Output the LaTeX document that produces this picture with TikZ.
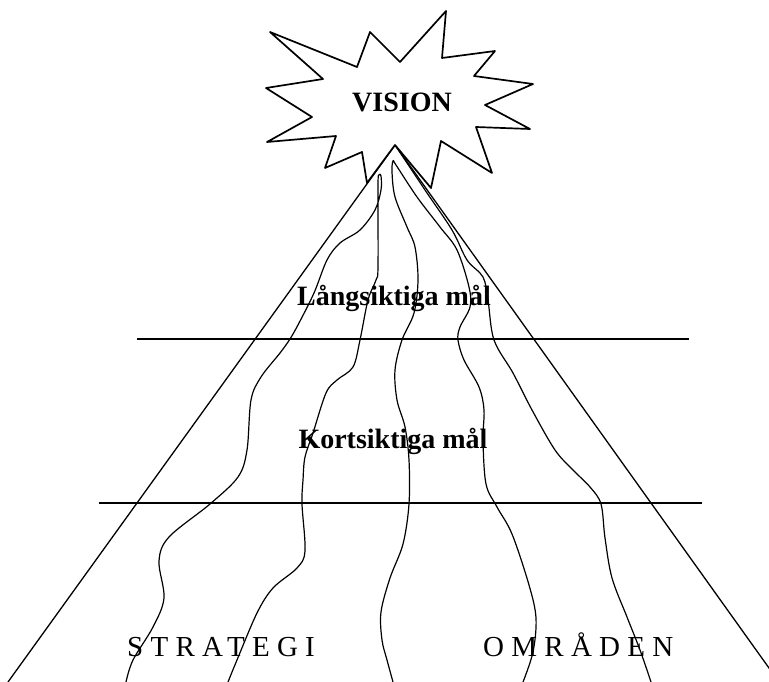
\documentclass[tikz,border=0pt]{standalone}
\usepackage{fontspec}
\setmainfont{Liberation Serif}
\newfontfamily\spacedfont[LetterSpace=25]{Liberation Serif}
\usetikzlibrary{positioning}

\begin{document}
\begin{tikzpicture}[x=1pt, y=-1pt, line join=round,
    level/.style={line width=1.5pt},
    edge/.style={line width=1.3pt},
    wave/.style={line width=1.2pt},
    burst/.style={line width=1.7pt, fill=white},
    heading/.style={inner sep=0pt, anchor=base, font=\fontsize{28}{30}\selectfont\bfseries},
    bottomtext/.style={inner sep=0pt, anchor=base west, font=\fontsize{29}{30}\spacedfont}]
    \useasboundingbox (0,0) rectangle (769,682);
    \clip (0,0) rectangle (769,682);

    \coordinate (apex) at (395,145);
    \coordinate (left end) at (8,682);
    \coordinate (right end) at (779,682);

    \draw[edge] (apex) -- (left end);
    \draw[edge] (apex) -- (right end);

    \draw[level] (137,339) coordinate (long west) -- (689,339) coordinate (long east);
    \draw[level] (99,503) coordinate (short west) -- (702,503) coordinate (short east);

    \draw[wave] plot[smooth, tension=0.55] coordinates {
        (126,682) (133,660) (153,627) (164,598) (159,561) (169,537) (210,504)
        (238,477) (247,450) (251,400) (261,377) (280,353) (290,339) (299,323)
        (314,293) (327,260) (340,243) (360,230) (375,210) (381,190) (381,176)
        (379,175) (378,185) (378,267) (376,280) (368,300) (360,340) (353,367)
        (337,380) (326,393) (313,433) (305,457) (303,480) (302,504) (305,551)
        (297,568) (273,588) (257,613) (237,660) (228,682)};
    \draw[wave] plot[smooth, tension=0.55] coordinates {
        (393,682) (387,660) (382,640) (381,612) (390,578) (403,544) (409,504)
        (409,460) (405,427) (397,400) (395,370) (402,340) (414,313) (418,280)
        (415,247) (407,227) (395,197) (392,172) (393,161) (396,165) (417,197)
        (440,227) (457,250) (469,287) (470,307) (460,327) (458,340) (464,360)
        (479,387) (484,410) (483,440) (486,484) (497,507) (512,534) (529,585)
        (536,618) (533,652) (523,682)};
    \draw[wave] plot[smooth, tension=0.55] coordinates {
        (apex) (425,190) (452,230) (467,260) (483,277) (488,300) (494,340)
        (513,373) (532,410) (555,450) (573,470) (590,487) (601,504) (605,538)
        (612,578) (627,617) (640,650) (651,682)};

    \draw[burst] (270,32) -- (357,67) -- (370,32) -- (400,62) -- (446,11)
        -- (442,58) -- (495,51) -- (474,76) -- (533,84) -- (485,105)
        -- (530,129) -- (476,127) -- (492,173) -- (441,141) -- (431,188)
        -- (apex) -- (367,183) -- (362,152) -- (325,168) -- (336,136)
        -- (267,142) -- (312,117) -- (266,88) -- (323,79) -- cycle;

    \node[heading] (vision) at (402,112) {VISION};
    \node[heading] (long) at (394,305) {Långsiktiga mål};
    \node[heading] (short) at (393,448) {Kortsiktiga mål};
    \node[bottomtext] (strategy) at (127,656) {STRATEGI};
    \node[bottomtext] (areas) at (483,656) {OMRÅDEN};
\end{tikzpicture}
\end{document}
